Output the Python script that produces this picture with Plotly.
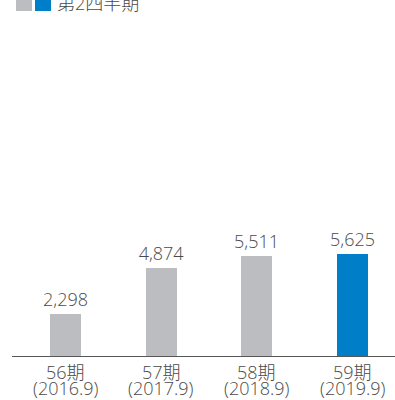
import plotly.graph_objects as go

periods = ["56期", "57期", "58期", "59期"]
years = ["(2016.9)", "(2017.9)", "(2018.9)", "(2019.9)"]
values = [2298, 4874, 5511, 5625]
colors = ["#bcbdc0", "#bcbdc0", "#bcbdc0", "#007ec7"]
legend_label = "第2四半期"

W, H = 395, 400
ML, MR, MT, MB = 12, 0, 20, 44
PW, PH = W - ML - MR, H - MT - MB
FONT = "Open Sans, Noto Sans CJK JP, sans-serif"
TXT = "#4a4a4a"

def px_x(p):
    return (p - ML) / PW

def px_y(p):
    return 1 - (p - MT) / PH

fig = go.Figure()
fig.add_trace(go.Bar(
    x=list(range(len(periods))), y=values,
    marker=dict(color=colors, line=dict(width=0)),
    width=0.324,
    texttemplate="%{y:,}", textposition="outside", constraintext="none",
    textfont=dict(family=FONT, size=18, color=TXT, weight=300),
    cliponaxis=False, showlegend=False, hoverinfo="skip",
))

annotations = []
for i, (pr, yr) in enumerate(zip(periods, years)):
    annotations.append(dict(x=i, xref="x", y=px_y(371.5), yref="paper",
                            text=pr, showarrow=False, xanchor="center", yanchor="middle",
                            font=dict(family=FONT, size=18, color=TXT, weight=300)))
    annotations.append(dict(x=i, xref="x", y=px_y(387.5), yref="paper",
                            text=yr, showarrow=False, xanchor="center", yanchor="middle",
                            font=dict(family=FONT, size=18, color=TXT, weight=300)))
annotations.append(dict(x=px_x(55), xref="paper", y=px_y(3), yref="paper",
                        text=legend_label, showarrow=False, xanchor="left", yanchor="middle",
                        font=dict(family=FONT, size=18, color=TXT, weight=300)))

shapes = [
    dict(type="rect", xref="paper", yref="paper", x0=px_x(16), x1=px_x(32),
         y0=px_y(11), y1=px_y(-5), fillcolor=colors[0], line=dict(width=0)),
    dict(type="rect", xref="paper", yref="paper", x0=px_x(35), x1=px_x(51),
         y0=px_y(11), y1=px_y(-5), fillcolor=colors[3], line=dict(width=0)),
]

fig.update_layout(
    width=W, height=H,
    margin=dict(l=ML, r=MR, t=MT, b=MB, pad=0),
    paper_bgcolor="white", plot_bgcolor="white",
    bargap=0,
    annotations=annotations, shapes=shapes,
    xaxis=dict(range=[-0.559, 3.443], tickmode="array",
               tickvals=list(range(len(periods))), ticktext=periods,
               showticklabels=False,
               showline=True, linecolor="#555555", linewidth=1,
               showgrid=False, zeroline=False, ticks=""),
    yaxis=dict(range=[0, PH / 0.01812], visible=False, showgrid=False, zeroline=False),
)

fig.write_html("out.html")
